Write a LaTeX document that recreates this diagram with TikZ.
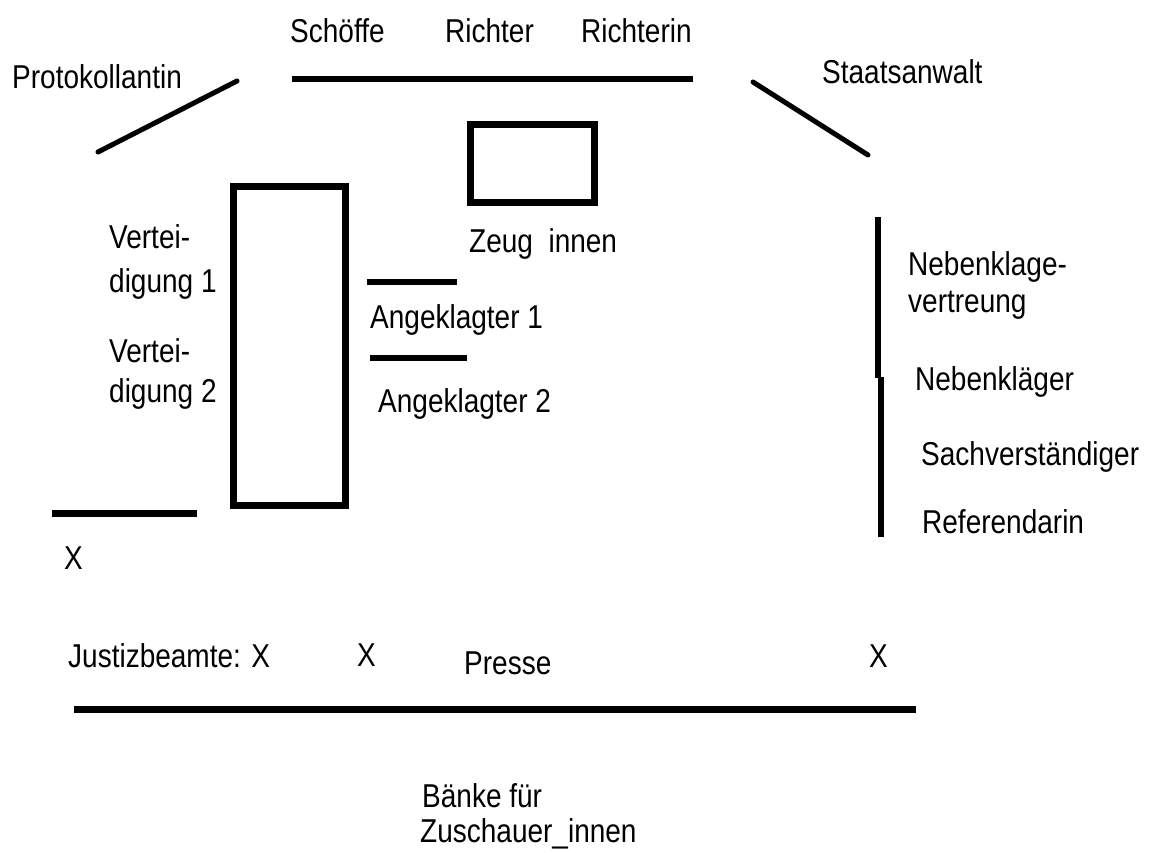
\documentclass[tikz,border=0pt]{standalone}
\usepackage{fontspec}
\setmainfont{Liberation Sans}
\newcommand\vtxt[1]{\scalebox{1}[1.18]{#1}}
\tikzset{
  lbl/.style={anchor=base west, inner sep=0pt, font=\fontsize{28}{32}\selectfont},
  wall/.style={line width=6pt},
  tilt/.style={line width=5pt, line cap=round},
  box/.style={line width=7pt}
}
\begin{document}
\begin{tikzpicture}[x=1pt,y=1pt]
\useasboundingbox (0,0) rectangle (1149,-852);
% judges' bench and side lines
\draw[wall] (292,-79) -- (693,-79);
\draw[tilt] (98,-152) -- (237,-81);
\draw[tilt] (753,-82) -- (868,-155);
% boxes
\draw[box] (470.5,-124.5) rectangle (594.5,-202.5);
\draw[box] (233.5,-186.5) rectangle (345.5,-505.5);
% defendants' lines
\draw[wall] (367,-282) -- (457,-282);
\draw[wall] (370,-358) -- (467,-358);
% left short line
\draw[box] (52,-513) -- (197,-513);
% right vertical line
\draw[wall] (878,-217) -- (878,-378);
\draw[wall] (881,-377) -- (881,-537);
% bottom line
\draw[box] (74,-709) -- (916,-709);
% labels
\node[lbl] (prot) at (12,-88) {\vtxt{Protokollantin}};
\node[lbl] (schoeffe) at (290,-42) {\vtxt{Schöffe}};
\node[lbl] (richter) at (445,-42) {\vtxt{Richter}};
\node[lbl] (richterin) at (581,-42) {\vtxt{Richterin}};
\node[lbl] (sta) at (822,-83) {\vtxt{Staatsanwalt}};
\node[lbl] (zeug) at (469,-252) {\vtxt{Zeug\ \ innen}};
\node[lbl] (v1a) at (109,-248) {\vtxt{Vertei-}};
\node[lbl] (v1b) at (109,-292) {\vtxt{digung 1}};
\node[lbl] (v2a) at (109,-362) {\vtxt{Vertei-}};
\node[lbl] (v2b) at (109,-402) {\vtxt{digung 2}};
\node[lbl] (ang1) at (370,-328) {\vtxt{Angeklagter 1}};
\node[lbl] (ang2) at (378,-412) {\vtxt{Angeklagter 2}};
\node[lbl] (nk1) at (908,-275) {\vtxt{Nebenklage-}};
\node[lbl] (nk2) at (908,-312) {\vtxt{vertreung}};
\node[lbl] (nkl) at (915,-390) {\vtxt{Nebenkläger}};
\node[lbl] (sach) at (921,-465) {\vtxt{Sachverständiger}};
\node[lbl] (ref) at (922,-533) {\vtxt{Referendarin}};
\node[lbl] (x1) at (64,-569) {\vtxt{X}};
\node[lbl] (justiz) at (68,-667) {\vtxt{Justizbeamte: X}};
\node[lbl] (x2) at (357,-666) {\vtxt{X}};
\node[lbl] (presse) at (464,-674) {\vtxt{Presse}};
\node[lbl] (x3) at (869,-667) {\vtxt{X}};
\node[lbl] (baenke) at (422,-807) {\vtxt{Bänke für}};
\node[lbl] (zusch) at (420,-842) {\vtxt{Zuschauer\_innen}};
\end{tikzpicture}
\end{document}
